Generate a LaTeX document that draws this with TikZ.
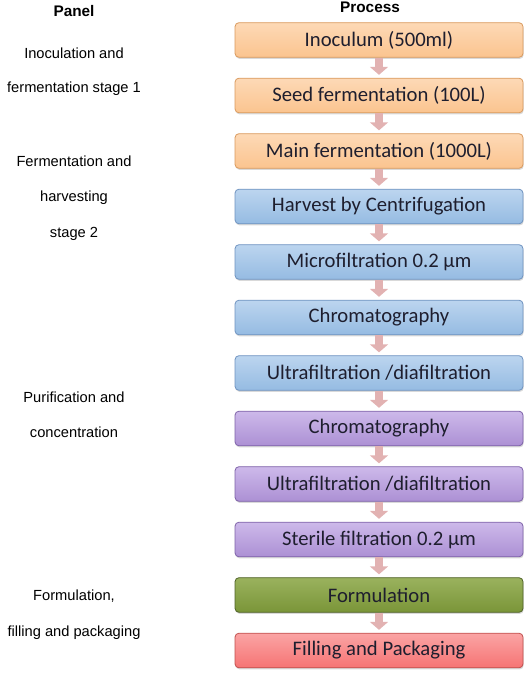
\documentclass[tikz,border=0pt]{standalone}
\usepackage{fontspec}
\setmainfont{Carlito}
\newfontfamily\labelfont{Liberation Sans}
\usetikzlibrary{arrows.meta, shadows}
\definecolor{peachfill}{HTML}{FBC48F}
\definecolor{peachtop}{HTML}{FDD9B6}
\definecolor{peachline}{HTML}{D99A5E}
\definecolor{bluefill}{HTML}{95BBE2}
\definecolor{bluetop}{HTML}{BCD5EF}
\definecolor{blueline}{HTML}{6F93C0}
\definecolor{purplefill}{HTML}{AC90D4}
\definecolor{purpletop}{HTML}{CDB9EA}
\definecolor{purpleline}{HTML}{7E62A8}
\definecolor{greenfill}{HTML}{7A9538}
\definecolor{greentop}{HTML}{9AB25E}
\definecolor{greenline}{HTML}{4F6228}
\definecolor{redfill}{HTML}{F67474}
\definecolor{redtop}{HTML}{FAA4A4}
\definecolor{redline}{HTML}{C0504D}
\definecolor{arrowpink}{HTML}{E2B2B2}
\definecolor{steptext}{HTML}{1E1E2E}

\begin{document}
\begin{tikzpicture}[x=0.75pt, y=-0.75pt,
    stepbox/.style={rounded corners=3pt, line width=0.6pt, minimum width=216pt, minimum height=26pt,
      font=\fontsize{15.5}{17}\selectfont, text=steptext,
      drop shadow={shadow xshift=0.5pt, shadow yshift=-1.2pt, opacity=0.3}},
    peach/.style={draw=peachline, top color=peachtop, bottom color=peachfill},
    blue/.style={draw=blueline, top color=bluetop, bottom color=bluefill},
    purple/.style={draw=purpleline, top color=purpletop, bottom color=purplefill},
    green/.style={draw=greenline, top color=greentop, bottom color=greenfill},
    red/.style={draw=redline, top color=redtop, bottom color=redfill},
    flow/.style={draw=arrowpink, line width=6.5pt, -{Triangle[width=13.5pt, length=6pt]}, shorten >=2.2pt},
    pl/.style={font=\labelfont\fontsize{11}{13}\selectfont, anchor=base},
    hdr/.style={font=\labelfont\bfseries\fontsize{11.5}{13}\selectfont, anchor=base}]
  \useasboundingbox (0,0) rectangle (529,680);
  % headers
  \node[hdr] (panel) at (74,17) {Panel};
  \node[hdr] (process) at (370,13) {Process};
  % process steps
  \foreach \n/\c/\t in {1/peach/{Inoculum (500ml)}, 2/peach/{Seed fermentation (100L)},
      3/peach/{Main fermentation (1000L)}, 4/blue/{Harvest by Centrifugation},
      5/blue/{Microfiltration 0.2 µm}, 6/blue/{Chromatography},
      7/blue/{Ultrafiltration /diafiltration}, 8/purple/{Chromatography},
      9/purple/{Ultrafiltration /diafiltration}, 10/purple/{Sterile filtration 0.2 µm},
      11/green/{Formulation}, 12/red/{Filling and Packaging}} {
    \node[stepbox, \c] (s\n) at (379, {40+55.5*(\n-1)}) {\t};
  }
  \foreach \a [evaluate=\a as \b using int(\a+1)] in {1,...,11} {
    \draw[flow] (s\a) -- (s\b);
  }
  % panel labels
  \foreach \n/\y/\t in {1/59/{Inoculation and}, 2/93/{fermentation stage 1},
      3/167/{Fermentation and}, 4/202/{harvesting}, 5/238/{stage 2},
      6/402/{Purification and}, 7/437/{concentration},
      8/600/{Formulation,}, 9/636/{filling and packaging}} {
    \node[pl] (p\n) at (74,\y) {\t};
  }
\end{tikzpicture}
\end{document}
